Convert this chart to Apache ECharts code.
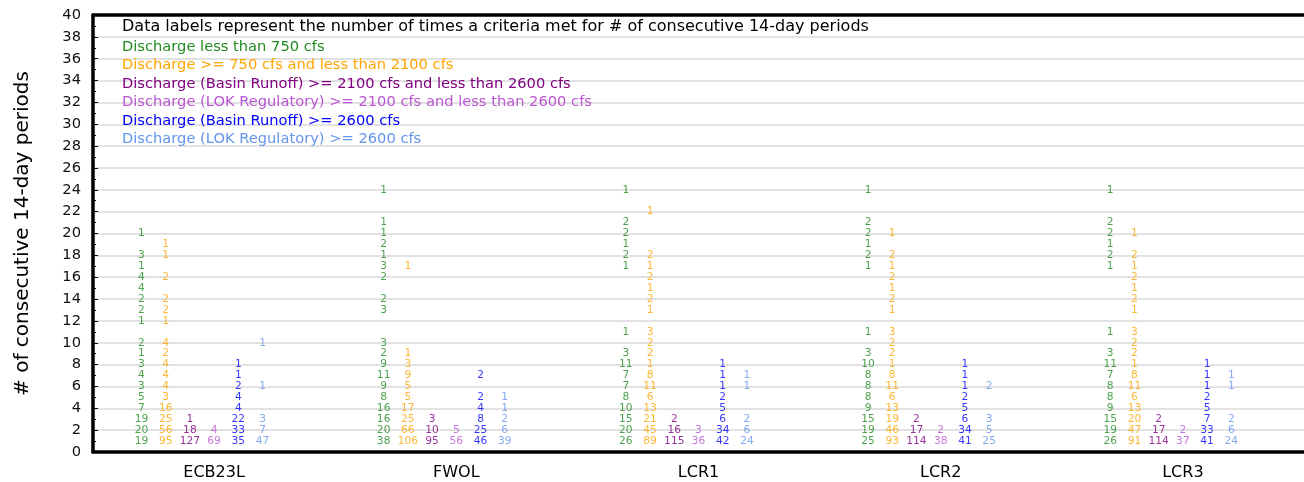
<!DOCTYPE html>
<html>
<head>
<meta charset="utf-8">
<script src="https://cdn.jsdelivr.net/npm/echarts@6/dist/echarts.min.js"></script>
<style>
  html, body { margin: 0; padding: 0; background: #fff; }
  #chart { width: 1304px; height: 482px; }
</style>
</head>
<body>
<div id="chart"></div>
<script>
// Gauging sites along the x axis
const sites = ['ECB23L', 'FWOL', 'LCR1', 'LCR2', 'LCR3'];

// Count of times each criterion was met, indexed by run length
// (element k = k+1 consecutive 14-day periods; null = not observed)
const below750 = [
  [19, 20, 19, 7, 5, 3, 4, 3, 1, 2, null, 1, 2, 2, 4, 4, 1, 3, null, 1],
  [38, 20, 16, 16, 8, 9, 11, 9, 2, 3, null, null, 3, 2, null, 2, 3, 1, 2, 1, 1, null, null, 1],
  [26, 20, 15, 10, 8, 7, 7, 11, 3, null, 1, null, null, null, null, null, 1, 2, 1, 2, 2, null, null, 1],
  [25, 19, 15, 9, 8, 8, 8, 10, 3, null, 1, null, null, null, null, null, 1, 2, 1, 2, 2, null, null, 1],
  [26, 19, 15, 9, 8, 8, 7, 11, 3, null, 1, null, null, null, null, null, 1, 2, 1, 2, 2, null, null, 1]
];
const from750to2100 = [
  [95, 56, 25, 16, 3, 4, 4, 4, 2, 4, null, 1, 2, 2, null, 2, null, 1, 1],
  [106, 66, 25, 17, 5, 5, 9, 3, 1, null, null, null, null, null, null, null, 1],
  [89, 45, 21, 13, 6, 11, 8, 1, 2, 2, 3, null, 1, 2, 1, 2, 1, 2, null, null, null, 1],
  [93, 46, 19, 13, 6, 11, 8, 1, 2, 2, 3, null, 1, 2, 1, 2, 1, 2, null, 1],
  [91, 47, 20, 13, 6, 11, 8, 1, 2, 2, 3, null, 1, 2, 1, 2, 1, 2, null, 1]
];
const basin2100to2600 = [
  [127, 18, 1],
  [95, 10, 3],
  [115, 16, 2],
  [114, 17, 2],
  [114, 17, 2]
];
const lok2100to2600 = [
  [69, 4],
  [56, 5],
  [36, 3],
  [38, 2],
  [37, 2]
];
const basinAbove2600 = [
  [35, 33, 22, 4, 4, 2, 1, 1],
  [46, 25, 8, 4, 2, null, 2],
  [42, 34, 6, 5, 2, 1, 1, 1],
  [41, 34, 6, 5, 2, 1, 1, 1],
  [41, 33, 7, 5, 2, 1, 1, 1]
];
const lokAbove2600 = [
  [47, 7, 3, null, null, 1, null, null, null, 1],
  [39, 6, 2, 1, 1],
  [24, 6, 2, null, null, 1, 1],
  [25, 5, 3, null, null, 2],
  [24, 6, 2, null, null, 1, 1]
];

const yTicks = [0, 40, 2]; // min, max, step

const criteria = [
  { name: 'Discharge less than 750 cfs', color: '#228B22', counts: below750 },
  { name: 'Discharge >= 750 cfs and less than 2100 cfs', color: '#FFA500', counts: from750to2100 },
  { name: 'Discharge (Basin Runoff) >= 2100 cfs and less than 2600 cfs', color: '#800080', counts: basin2100to2600 },
  { name: 'Discharge (LOK Regulatory) >= 2100 cfs and less than 2600 cfs', color: '#BA55D3', counts: lok2100to2600 },
  { name: 'Discharge (Basin Runoff) >= 2600 cfs', color: '#0000FF', counts: basinAbove2600 },
  { name: 'Discharge (LOK Regulatory) >= 2600 cfs', color: '#6495ED', counts: lokAbove2600 }
];

const FONT = 'DejaVu Sans';
const colStep = 0.1; // horizontal offset between criterion columns, in site units

const series = criteria.map((c, j) => {
  const data = [];
  c.counts.forEach((arr, s) => {
    arr.forEach((v, k) => {
      if (v !== null && v !== undefined) {
        data.push([s + (j - 3) * colStep, k + 1, v]);
      }
    });
  });
  return {
    name: c.name,
    type: 'scatter',
    xAxisIndex: 1,
    yAxisIndex: 0,
    symbolSize: 0,
    itemStyle: { color: c.color },
    silent: true,
    label: {
      show: true,
      position: 'inside',
      formatter: p => String(p.value[2]),
      color: c.color,
      fontFamily: FONT,
      fontSize: 10.67
    },
    data
  };
});

const chart = echarts.init(document.getElementById('chart'), null, { renderer: 'canvas' });
chart.setOption({
  animation: false,
  backgroundColor: '#fff',
  title: {
    text: 'Data labels represent the number of times a criteria met for # of consecutive 14-day periods',
    left: 122,
    top: 17.5,
    padding: 0,
    textStyle: { fontFamily: FONT, fontSize: 16, fontWeight: 'normal', color: '#000', lineHeight: 18.5 }
  },
  legend: {
    orient: 'vertical',
    left: 117,
    top: 37.5,
    padding: 0,
    itemGap: 0,
    itemWidth: 0,
    itemHeight: 0,
    icon: 'none',
    selectedMode: false,
    textStyle: { fontFamily: FONT, fontSize: 14.67, lineHeight: 18.5 },
    data: criteria.map(c => ({ name: c.name, icon: 'none', textStyle: { color: c.color } }))
  },
  grid: { left: 93, top: 15, width: 1221, height: 437, containLabel: false },
  xAxis: [
    {
      type: 'category',
      data: sites,
      position: 'bottom',
      boundaryGap: true,
      axisLine: { show: true, onZero: false, lineStyle: { color: '#000', width: 3.5 } },
      axisTick: { show: false },
      axisLabel: { fontFamily: FONT, fontSize: 16, color: '#000', margin: 13 },
      splitLine: { show: false }
    },
    {
      type: 'value',
      min: -0.5,
      max: 4.5,
      position: 'top',
      axisLine: { show: true, onZero: false, lineStyle: { color: '#000', width: 3.5 } },
      axisTick: { show: false },
      axisLabel: { show: false },
      splitLine: { show: false }
    }
  ],
  yAxis: {
    type: 'value',
    min: yTicks[0],
    max: yTicks[1],
    interval: yTicks[2],
    position: 'left',
    name: '# of consecutive 14-day periods',
    nameLocation: 'middle',
    nameRotate: 90,
    nameGap: 60,
    nameTextStyle: { fontFamily: FONT, fontSize: 20, color: '#000' },
    axisLine: { show: true, onZero: false, lineStyle: { color: '#000', width: 3.5 } },
    axisTick: { show: true, inside: true, length: 5, lineStyle: { color: '#000', width: 1 } },
    minorTick: { show: true, splitNumber: 2, length: 3, lineStyle: { color: '#000', width: 1 } },
    axisLabel: { fontFamily: FONT, fontSize: 14.67, color: '#111', margin: 12 },
    splitLine: { show: true, lineStyle: { color: '#d9d9d9', width: 1.5 } }
  },
  series
});
</script>
</body>
</html>
